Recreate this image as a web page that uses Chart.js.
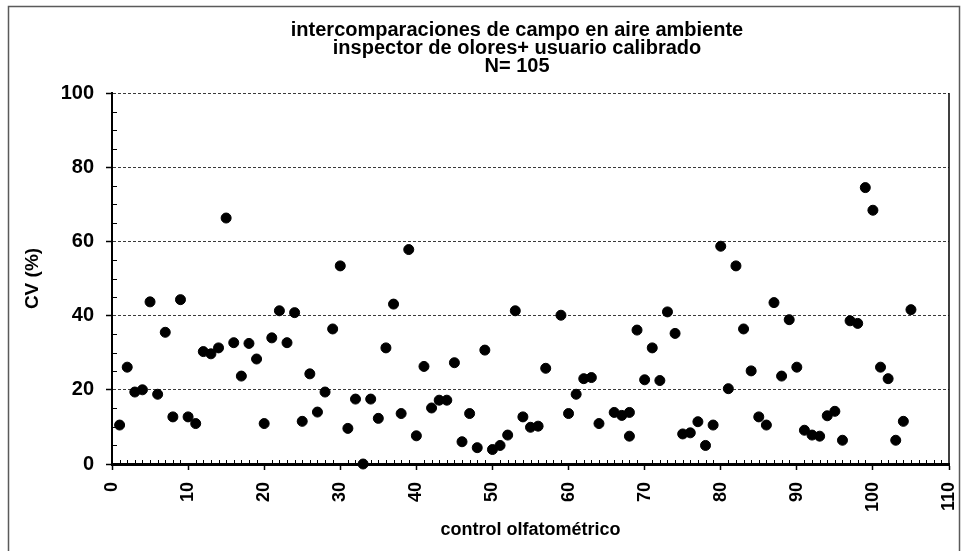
<!DOCTYPE html>
<html lang="es">
<head>
  <meta charset="UTF-8" />
  <title>CV control olfatométrico</title>
  <script src="https://cdn.jsdelivr.net/npm/chart.js"></script>
  <style>
    body {
      margin: 0;
      background: #fff;
    }
    #chart {
      display: block;
    }
  </style>
</head>
<body>
  <canvas id="chart" width="965" height="551"></canvas>

  <script>
    // control number (x) and CV in % (y)
    const controlNo = [
      1, 2, 3, 4, 5, 6, 7, 8, 9, 10,
      11, 12, 13, 14, 15, 16, 17, 18, 19, 20,
      21, 22, 23, 24, 25, 26, 27, 28, 29, 30,
      31, 32, 33, 34, 35, 36, 37, 38, 39, 40,
      41, 42, 43, 44, 45, 46, 47, 48, 49, 50,
      51, 52, 53, 54, 55, 56, 57, 59, 60, 61,
      62, 63, 64, 66, 67, 68, 68, 69, 70, 71,
      72, 73, 74, 75, 76, 77, 78, 79, 80, 81,
      82, 83, 84, 85, 86, 87, 88, 89, 90, 91,
      92, 93, 94, 95, 96, 97, 98, 99, 100, 101,
      102, 103, 104, 105
    ];
    const cvPercent = [
      10.5, 26.1, 19.4, 20.0, 43.7, 18.8, 35.5, 12.7, 44.3, 12.7,
      10.9, 30.3, 29.7, 31.3, 66.3, 32.7, 23.7, 32.5, 28.3, 10.9,
      34.0, 41.3, 32.7, 40.8, 11.5, 24.3, 14.0, 19.4, 36.4, 53.4,
      9.6, 17.5, 0.0, 17.5, 12.3, 31.3, 43.1, 13.6, 57.8, 7.6,
      26.3, 15.1, 17.2, 17.2, 27.3, 6.0, 13.6, 4.4, 30.7, 3.9,
      5.0, 7.8, 41.3, 12.7, 9.9, 10.2, 25.8, 40.1, 13.6, 18.8,
      23.0, 23.3, 10.9, 13.9, 13.1, 13.9, 7.5, 36.1, 22.7, 31.3,
      22.5, 41.0, 35.2, 8.1, 8.4, 11.4, 5.0, 10.5, 58.7, 20.3,
      53.4, 36.4, 25.1, 12.7, 10.5, 43.5, 23.7, 38.9, 26.1, 9.1,
      7.8, 7.5, 13.0, 14.2, 6.4, 38.6, 37.9, 74.5, 68.4, 26.1,
      23.0, 6.4, 11.5, 41.6
    ];
    const titleLines = [
      'intercomparaciones de campo en aire ambiente',
      'inspector de olores+ usuario calibrado',
      'N= 105'
    ];
    const xTitle = 'control olfatométrico';
    const yTitle = 'CV (%)';

    const points = controlNo.map((x, i) => ({ x: x, y: cvPercent[i] }));

    const FONT = '"Liberation Sans", Arial, sans-serif';

    // frame, right border of plot, minor tick marks, title shift
    const decor = {
      id: 'decor',
      beforeDraw(chart) {
        const c = chart.ctx;
        c.save();
        c.fillStyle = '#fff';
        c.fillRect(0, 0, chart.width, chart.height);
        c.strokeStyle = '#5a5a5a';
        c.lineWidth = 1.5;
        c.strokeRect(8.5, 6.5, 951, 560);
        c.restore();
      },
      afterLayout(chart) {
        chart.titleBlock.left += 71;
      },
      afterDatasetsDraw(chart) {
        const c = chart.ctx;
        const a = chart.chartArea;
        const xs = chart.scales.x, ys = chart.scales.y;
        c.save();
        c.strokeStyle = '#000';
        c.lineWidth = 1;
        c.beginPath();
        for (let v = 1; v < 110; v++) {
          if (v % 10 === 0) continue;
          const px = Math.round(xs.getPixelForValue(v)) + 0.5;
          c.moveTo(px, a.bottom);
          c.lineTo(px, a.bottom - 4);
        }
        for (let v = 5; v < 100; v += 5) {
          if (v % 20 === 0) continue;
          const py = Math.round(ys.getPixelForValue(v)) + 0.5;
          c.moveTo(a.left, py);
          c.lineTo(a.left + 5, py);
        }
        c.stroke();
        c.lineWidth = 1.5;
        c.beginPath();
        c.moveTo(a.right, a.top);
        c.lineTo(a.right, a.bottom);
        c.stroke();
        c.restore();
      }
    };

    new Chart(document.getElementById('chart'), {
      type: 'scatter',
      data: {
        datasets: [{
          data: points,
          backgroundColor: '#000',
          borderColor: '#000',
          pointRadius: 5,
          pointHoverRadius: 5,
          clip: false
        }]
      },
      options: {
        responsive: false,
        animation: false,
        layout: { padding: { left: 14, right: 16, top: 0, bottom: 0 } },
        plugins: {
          legend: { display: false },
          tooltip: { enabled: false },
          title: {
            display: true,
            text: titleLines,
            color: '#000',
            font: { family: FONT, size: 20, weight: 'bold', lineHeight: 0.9 },
            padding: { top: 21, bottom: 18 }
          }
        },
        scales: {
          x: {
            type: 'linear',
            min: 0,
            max: 110,
            afterFit(s) {
              s.height = 87;
              s.paddingLeft = 0;
              s.paddingRight = 0;
            },
            ticks: {
              stepSize: 10,
              minRotation: 90,
              maxRotation: 90,
              padding: 12,
              color: '#000',
              font: { family: FONT, size: 18, weight: 'bold' }
            },
            grid: {
              drawOnChartArea: false,
              tickLength: 6,
              tickColor: '#000',
              tickWidth: 1.5
            },
            border: { color: '#000', width: 3 },
            title: {
              display: true,
              text: xTitle,
              color: '#000',
              font: { family: FONT, size: 18, weight: 'bold' },
              padding: { top: 0, bottom: 10 }
            }
          },
          y: {
            min: 0,
            max: 100,
            afterFit(s) { s.width = 98; },
            ticks: {
              stepSize: 20,
              padding: 12,
              color: '#000',
              font: { family: FONT, size: 20, weight: 'bold' }
            },
            grid: {
              color: ctx => ctx.tick && ctx.tick.value === 0 ? 'rgba(0,0,0,0)' : '#3a3a3a',
              lineWidth: 1,
              tickLength: 6,
              tickColor: '#000',
              tickWidth: 1.5
            },
            border: { color: '#000', width: 2, dash: [3, 2] },
            title: {
              display: true,
              text: yTitle,
              color: '#000',
              font: { family: FONT, size: 19, weight: 'bold' },
              padding: { top: 7, bottom: 0 }
            }
          }
        }
      },
      plugins: [decor]
    });
  </script>
</body>
</html>
